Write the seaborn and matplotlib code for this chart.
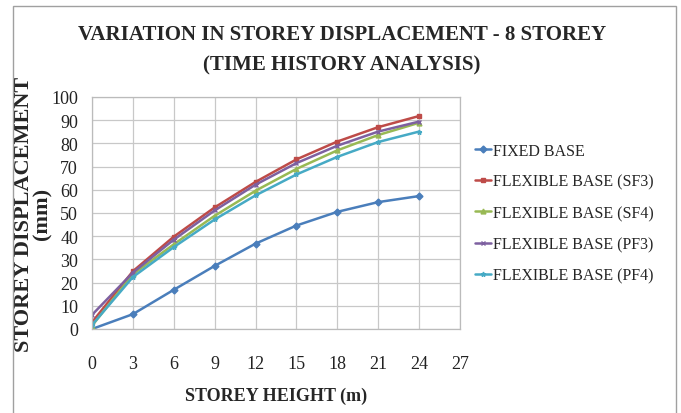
import numpy as np
import pandas as pd
import matplotlib
matplotlib.use("Agg")
import matplotlib.pyplot as plt
import seaborn as sns
from matplotlib.patches import Rectangle

storey_height = [0, 3, 6, 9, 12, 15, 18, 21, 24]

fixed_base = [0.0, 6.4, 16.9, 27.2, 36.8, 44.6, 50.5, 54.7, 57.3]
flexible_sf3 = [2.9, 24.9, 39.8, 52.4, 63.4, 73.1, 80.8, 87.0, 91.8]
flexible_sf4 = [1.4, 23.6, 36.5, 48.8, 59.6, 69.0, 77.0, 83.6, 88.9]
flexible_pf3 = [6.1, 24.3, 38.5, 51.1, 62.2, 71.5, 79.0, 85.1, 89.4]
flexible_pf4 = [1.7, 22.4, 35.3, 47.2, 57.6, 66.6, 74.2, 80.6, 85.1]

series_names = ["FIXED BASE", "FLEXIBLE BASE (SF3)", "FLEXIBLE BASE (SF4)",
                "FLEXIBLE BASE (PF3)", "FLEXIBLE BASE (PF4)"]
series_values = [fixed_base, flexible_sf3, flexible_sf4, flexible_pf3, flexible_pf4]

colors = ["#4A7EBB", "#BE4B48", "#98B954", "#7D60A0", "#46AAC5"]
markers = ["D", "s", "^", "x", "*"]

sns.set_theme(style="white")
plt.rcParams['font.family'] = ['Liberation Serif', 'DejaVu Serif']

fig = plt.figure(figsize=(6.81, 4.14), dpi=100)
ax = fig.add_axes([92 / 681, 1 - 330 / 414, 368 / 681, 232 / 414])

for name, vals, c, m in zip(series_names, series_values, colors, markers):
    sns.lineplot(x=storey_height, y=vals, color=c, marker=m, markersize=3.5,
                 markeredgecolor=c, markeredgewidth=1, linewidth=1.8,
                 label=name, ax=ax)

ax.set_xlim(0, 27)
ax.set_ylim(0, 100)
ax.set_xticks(range(0, 28, 3))
ax.set_yticks(range(0, 101, 10))
ax.grid(True, color="#C8C8C8", linewidth=0.9)
for s in ax.spines.values():
    s.set_color("#BBBBBB")
    s.set_linewidth(0.9)
ax.tick_params(axis="x", length=0, pad=19, labelsize=13, colors="#222222")
ax.tick_params(axis="y", length=0, pad=10, labelsize=13, colors="#222222")

ax.set_xlabel("STOREY HEIGHT (m)", fontsize=13, fontweight="bold", labelpad=10)
ax.set_ylabel("STOREY DISPLACEMENT\n(mm)", fontsize=16, fontweight="bold",
              linespacing=0.85)
ax.yaxis.set_label_coords((52 - 92) / 368, 0.5)

handles, labels = ax.get_legend_handles_labels()
ax.get_legend().remove()
leg = fig.legend(handles, labels, loc="center left",
                 bbox_to_anchor=(461 / 681, 1 - 214 / 414),
                 frameon=False, fontsize=11.5, handlelength=1.0,
                 handletextpad=0.1, labelspacing=0.95)

fig.suptitle("VARIATION IN STOREY DISPLACEMENT - 8 STOREY\n(TIME HISTORY ANALYSIS)",
             x=342 / 681, y=1 - 25 / 414, fontsize=15, fontweight="bold",
             linespacing=1.72, va="top")

fig.patches.append(Rectangle((13 / 681, -0.01), 663 / 681, 1 - 7 / 414 + 0.01,
                             transform=fig.transFigure, fill=False,
                             edgecolor="#A0A0A0", linewidth=1))

fig.savefig("out.png", dpi=100, facecolor="white")
